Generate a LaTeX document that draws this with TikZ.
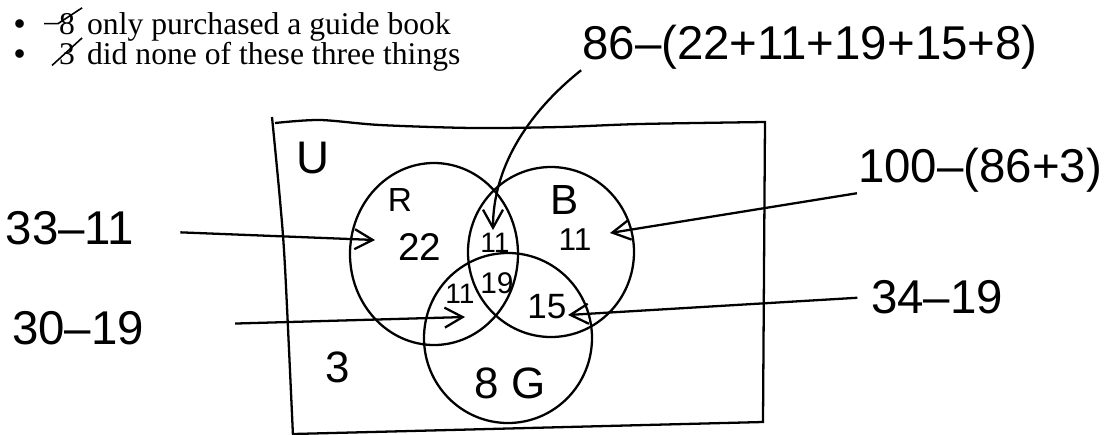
\documentclass[tikz,border=0pt]{standalone}
\usepackage{fontspec}
\setmainfont{Liberation Serif}
\newfontfamily\scrawlfont{Liberation Sans}
\usetikzlibrary{arrows.meta,calc}

\tikzset{
  typed/.style={font=\fontsize{18}{22}\selectfont,inner sep=0pt,anchor=base west},
  scrawl/.style={font=\scrawlfont\fontsize{#1}{#1}\selectfont,inner sep=0pt},
  scrawl/.default=27,
  pen/.style={line width=1.3pt},
  strike/.style={line width=0.9pt},
  barb/.style={pen,-{Straight Barb[length=3.6mm,width=4mm]}},
}

\begin{document}
\begin{tikzpicture}[x=0.02cm,y=-0.02cm,line width=1.3pt]
\useasboundingbox (0,0) rectangle (1107,434);
% ---------- typed list ----------
\node[typed] (dot1) at (13,34) {\textbf{•}};
\node[typed] (num1) at (58,34) {8};
\node[typed] (txt1) at (86,34) {only purchased a guide book};
\node[typed] (dot2) at (13,64) {\textbf{•}};
\node[typed] (num2) at (58,64) {3};
\node[typed] (txt2) at (86,64) {did none of these three things};
\draw[strike] ($(num1.west)+(-14,0)$) -- (num1.west) -- ($(num1.north east)+(6,-4)$);
\draw[strike] ($(num2.south west)+(-6,0)$) -- ($(num2.north east)+(6,-4)$);
% ---------- universe box ----------
\draw[pen] plot[smooth] coordinates {(272,117) (280,200) (285,267) (293,436)};
\draw[pen] plot[smooth] coordinates {(275,123) (320,120) (380,125) (473,128) (560,127) (640,124) (765,122)}
  -- (763,422) -- (293,434);
% ---------- sets R, B, G ----------
\draw[pen] (434,254) ellipse [x radius=84, y radius=91];
\draw[pen] (551,252) ellipse [x radius=83, y radius=85];
\draw[pen] (508,338) ellipse [x radius=84, y radius=85];
% ---------- region counts ----------
\node[scrawl=26] (lU) at (313,158) {U};
\node[scrawl=19] (lR) at (400,200) {R};
\node[scrawl=24] (lB) at (565,200) {B};
\node[scrawl=22] (n22) at (420,247) {22};
\node[scrawl=16] (n11rb) at (495,243) {11};
\node[scrawl=17] (n19) at (497,283) {19};
\node[scrawl=16] (n11rg) at (460,294) {11};
\node[scrawl=18] (n11b) at (575,240) {11};
\node[scrawl=20] (n15) at (547,307) {15};
\node[scrawl=25] (n3) at (338,367) {3};
\node[scrawl=25] (n8G) at (510,383) {8 G};
% ---------- working ----------
\node[scrawl] (t3311) at (70,228) {33–11};
\node[scrawl] (t3019) at (78,328) {30–19};
\node[scrawl] (t1003) at (980,170) {100–(86+3)};
\node[scrawl] (t3419) at (937,297) {34–19};
\node[scrawl] (t86) at (810,47) {86–(22+11+19+15+8)};
\coordinate (p22) at (375,240);
\coordinate (p11rg) at (465,317);
\coordinate (p11b) at (610,233);
\coordinate (p15) at (568,315);
\coordinate (p11rb) at (493,230);
\draw[barb,shorten <=0.9cm] (t3311) -- (p22);
\draw[barb,shorten <=1.8cm] (t3019) -- (p11rg);
\draw[barb] (t1003.south west) -- (p11b);
\draw[barb,shorten <=0.25cm] (t3419.west) -- (p15);
\draw[barb] (t86.south west) .. controls (525,115) and (493,170) .. (p11rb);
\end{tikzpicture}
\end{document}
